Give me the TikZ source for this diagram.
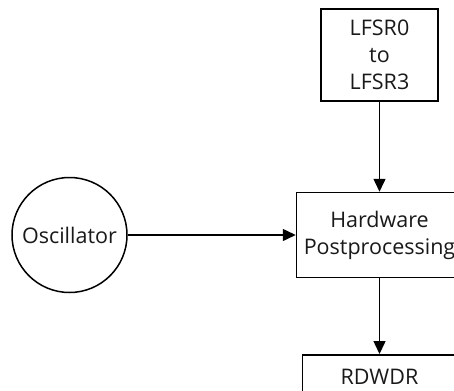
\documentclass[tikz,border=0pt]{standalone}
\usepackage{fontspec}
\setmainfont{Open Sans}
\usetikzlibrary{arrows.meta}
\tikzset{
	block/.style={draw, line width=1.5pt, align=center, inner sep=0pt, font=\fontsize{21.5}{27}\selectfont},
	flow/.style={-{Triangle[length=13pt,width=12pt]}, line width=1.5pt},
}
\begin{document}
\begin{tikzpicture}[x=1pt, y=-1pt, text=black!90]
	\useasboundingbox (0,0) rectangle (454,390);
	\clip (0,0) rectangle (454,390);
	\node[block, minimum width=117pt, minimum height=92pt] (lfsr) at (379.5,55) {LFSR0\\to\\LFSR3};
	\node[block, minimum width=166pt, minimum height=85pt] (hw) at (379.5,235) {Hardware\\Postprocessing};
	\node[block, circle, minimum size=115pt] (osc) at (69.5,235) {Oscillator};
	\node[block, minimum width=154pt, minimum height=60pt, anchor=north] (rdwdr) at (379.5,354) {};
	\node[font=\fontsize{21.5}{27}\selectfont] (rdwdrtext) at (379.5,377) {RDWDR};
	\draw[flow] (lfsr) -- (hw);
	\draw[flow] (osc) -- (hw);
	\draw[flow] (hw) -- (rdwdr);
\end{tikzpicture}
\end{document}
